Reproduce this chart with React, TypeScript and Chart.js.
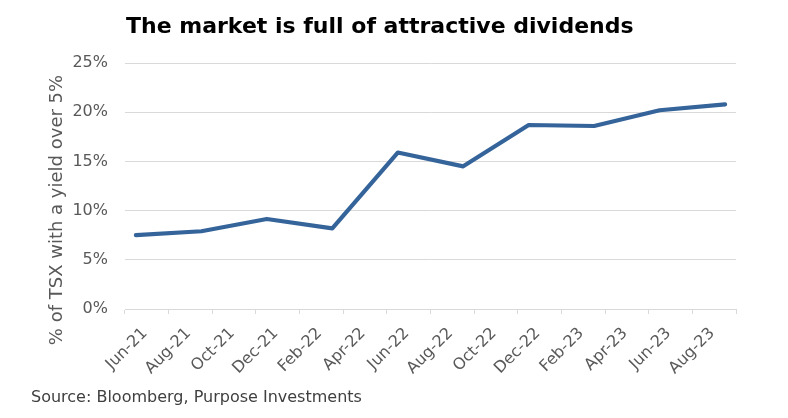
import React, { useEffect, useRef } from 'react';
import { Chart, registerables } from 'chart.js';

Chart.register(...registerables);

const months = [
  'Jun-21', 'Jul-21', 'Aug-21', 'Sep-21', 'Oct-21', 'Nov-21', 'Dec-21',
  'Jan-22', 'Feb-22', 'Mar-22', 'Apr-22', 'May-22', 'Jun-22', 'Jul-22',
  'Aug-22', 'Sep-22', 'Oct-22', 'Nov-22', 'Dec-22',
  'Jan-23', 'Feb-23', 'Mar-23', 'Apr-23', 'May-23', 'Jun-23', 'Jul-23',
  'Aug-23', 'Sep-23',
];
const pointMonths = ['Jun-21', 'Sep-21', 'Dec-21', 'Mar-22', 'Jun-22', 'Sep-22', 'Dec-22', 'Mar-23', 'Jun-23', 'Sep-23'];
const values = [7.5, 7.9, 9.15, 8.2, 15.9, 14.5, 18.7, 18.6, 20.2, 20.8];
const yMin = 0;
const yMax = 25;
const yStep = 5;

const titleText = 'The market is full of attractive dividends';
const yTitleText = '% of TSX with a yield over 5%';
const sourceText = 'Source: Bloomberg, Purpose Investments';

const FONT = '"DejaVu Sans", sans-serif';
const GRAY = '#595959';
const GRID = '#d9d9d9';
const LINE = '#35649a';

const textPlugin = {
  id: 'extraTexts',
  afterDraw(chart: any) {
    const ctx = chart.ctx as CanvasRenderingContext2D;
    ctx.save();
    ctx.fillStyle = '#000000';
    ctx.textAlign = 'left';
    ctx.textBaseline = 'alphabetic';
    ctx.font = `bold 22px ${FONT}`;
    ctx.fillText(titleText, 126, 33);

    ctx.fillStyle = '#404040';
    ctx.font = `16px ${FONT}`;
    ctx.fillText(sourceText, 31, 402);

    ctx.fillStyle = GRAY;
    ctx.font = `18px ${FONT}`;
    ctx.translate(62, 210);
    ctx.rotate(-Math.PI / 2);
    ctx.textAlign = 'center';
    ctx.fillText(yTitleText, 0, 0);
    ctx.restore();
  },
};

export default function App() {
  const ref = useRef<HTMLCanvasElement | null>(null);

  useEffect(() => {
    if (!ref.current) return;
    const chart = new Chart(ref.current, {
      type: 'line',
      data: {
        labels: months,
        datasets: [
          {
            data: pointMonths.map((m, i) => ({ x: m, y: values[i] })) as any,
            borderColor: LINE,
            borderWidth: 4.2,
            pointRadius: 0,
            tension: 0,
            borderCapStyle: 'round',
            borderJoinStyle: 'round',
            fill: false,
          },
        ],
      },
      options: {
        responsive: false,
        animation: false,
        devicePixelRatio: 1,
        layout: { padding: { left: 65, right: 52, top: 63, bottom: 39 } },
        plugins: {
          legend: { display: false },
          tooltip: { enabled: false },
          title: { display: false },
        },
        scales: {
          x: {
            type: 'category',
            offset: true,
            grid: {
              offset: true,
              drawOnChartArea: false,
              drawTicks: true,
              tickLength: 5,
              tickWidth: 1,
              tickColor: (c: any) => (c.index === undefined || c.index % 2 === 0 ? GRID : 'rgba(0,0,0,0)'),
            },
            border: { display: true, color: GRID, width: 1 },
            ticks: {
              autoSkip: false,
              maxRotation: 45,
              minRotation: 45,
              padding: 10,
              labelOffset: 9,
              color: GRAY,
              font: { family: FONT, size: 16 },
              callback: (_v: any, i: number) => (i % 2 === 0 ? months[i] : ''),
            },
            afterFit: (s: any) => {
              s.height = 70;
            },
          },
          y: {
            min: yMin,
            max: yMax,
            grid: { color: GRID, lineWidth: 1, drawTicks: false },
            border: { display: false },
            ticks: {
              stepSize: yStep,
              padding: 17,
              color: GRAY,
              font: { family: FONT, size: 16 },
              callback: (v: any) => `${v}%`,
            },
            afterFit: (s: any) => {
              s.width = 60;
            },
          },
        },
      },
      plugins: [textPlugin],
    });
    return () => chart.destroy();
  }, []);

  return (
    <div style={{ position: 'absolute', left: 0, top: 0, width: 788, height: 418, background: '#fff' }}>
      <canvas ref={ref} width={788} height={418} style={{ display: 'block', width: 788, height: 418 }} />
    </div>
  );
}
